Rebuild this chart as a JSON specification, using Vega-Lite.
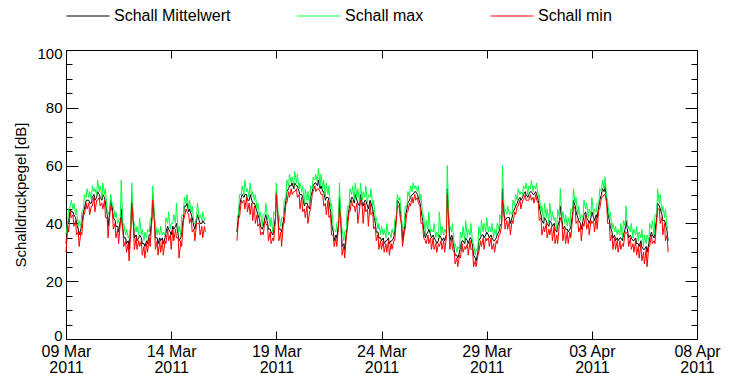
{
"$schema": "https://vega.github.io/schema/vega-lite/v6.json",
"width": 631, "height": 289,
"autosize": "none",
"padding": {"left": 66, "top": 50, "right": 36, "bottom": 35},
"background": "white",
"data": {"format": {"parse": {"t": "utc:'%Y%m%d%H'"}}, "values": [
{"t":"2011030900","s":1,"x":36,"m":33,"n":30},{"t":"2011030903","s":1,"x":45,"m":41,"n":37},{"t":"2011030906","s":1,"x":48,"m":44,"n":42},{"t":"2011030909","s":1,"x":47,"m":43,"n":39},{"t":"2011030912","s":1,"x":45,"m":40,"n":36},{"t":"2011030915","s":1,"x":41,"m":36,"n":32},{"t":"2011030918","s":1,"x":44,"m":40,"n":36},{"t":"2011030921","s":1,"x":50,"m":45,"n":43},
{"t":"2011031000","s":1,"x":52,"m":48,"n":45},{"t":"2011031003","s":1,"x":51,"m":47,"n":43},{"t":"2011031006","s":1,"x":53,"m":49,"n":46},{"t":"2011031009","s":1,"x":52,"m":48,"n":44},{"t":"2011031012","s":1,"x":55,"m":51,"n":48},{"t":"2011031015","s":1,"x":53,"m":49,"n":46},{"t":"2011031018","s":1,"x":54,"m":50,"n":45},{"t":"2011031021","s":1,"x":52,"m":47,"n":42},
{"t":"2011031100","s":1,"x":43,"m":39,"n":35},{"t":"2011031103","s":1,"x":50,"m":48,"n":46},{"t":"2011031106","s":1,"x":46,"m":42,"n":38},{"t":"2011031109","s":1,"x":44,"m":39,"n":35},{"t":"2011031112","s":1,"x":41,"m":37,"n":33},{"t":"2011031115","s":1,"x":55,"m":45,"n":42},{"t":"2011031118","s":1,"x":40,"m":35,"n":32},{"t":"2011031121","s":1,"x":38,"m":33,"n":30},
{"t":"2011031200","s":1,"x":35,"m":31,"n":27},{"t":"2011031203","s":1,"x":54,"m":49,"n":47},{"t":"2011031206","s":1,"x":40,"m":35,"n":31},{"t":"2011031209","s":1,"x":39,"m":34,"n":31},{"t":"2011031212","s":1,"x":42,"m":36,"n":32},{"t":"2011031215","s":1,"x":38,"m":33,"n":29},{"t":"2011031218","s":1,"x":37,"m":32,"n":28},{"t":"2011031221","s":1,"x":38,"m":33,"n":30},
{"t":"2011031300","s":1,"x":41,"m":36,"n":32},{"t":"2011031303","s":1,"x":53,"m":50,"n":48},{"t":"2011031306","s":1,"x":40,"m":35,"n":31},{"t":"2011031309","s":1,"x":38,"m":33,"n":29},{"t":"2011031312","s":1,"x":39,"m":34,"n":30},{"t":"2011031315","s":1,"x":37,"m":33,"n":29},{"t":"2011031318","s":1,"x":42,"m":37,"n":33},{"t":"2011031321","s":1,"x":44,"m":38,"n":34},
{"t":"2011031400","s":1,"x":40,"m":36,"n":31},{"t":"2011031403","s":1,"x":43,"m":38,"n":34},{"t":"2011031406","s":1,"x":47,"m":40,"n":35},{"t":"2011031409","s":1,"x":39,"m":34,"n":28},{"t":"2011031412","s":1,"x":43,"m":37,"n":32},{"t":"2011031415","s":1,"x":49,"m":46,"n":42},{"t":"2011031418","s":1,"x":50,"m":47,"n":44},{"t":"2011031421","s":1,"x":48,"m":45,"n":40},
{"t":"2011031500","s":1,"x":46,"m":42,"n":37},{"t":"2011031503","s":1,"x":40,"m":38,"n":34},{"t":"2011031506","s":1,"x":47,"m":43,"n":40},{"t":"2011031509","s":1,"x":43,"m":40,"n":36},{"t":"2011031512","s":1,"x":44,"m":41,"n":35},{"t":"2011031515","s":1,"x":42,"m":40,"n":37},
{"t":"2011031703","s":2,"x":41,"m":37,"n":34},{"t":"2011031706","s":2,"x":50,"m":46,"n":42},{"t":"2011031709","s":2,"x":53,"m":50,"n":47},{"t":"2011031712","s":2,"x":55,"m":50,"n":45},{"t":"2011031715","s":2,"x":52,"m":48,"n":44},{"t":"2011031718","s":2,"x":54,"m":50,"n":43},{"t":"2011031721","s":2,"x":51,"m":47,"n":41},
{"t":"2011031800","s":2,"x":50,"m":46,"n":40},{"t":"2011031803","s":2,"x":47,"m":43,"n":39},{"t":"2011031806","s":2,"x":44,"m":39,"n":36},{"t":"2011031809","s":2,"x":43,"m":39,"n":36},{"t":"2011031812","s":2,"x":47,"m":43,"n":40},{"t":"2011031815","s":2,"x":43,"m":38,"n":34},{"t":"2011031818","s":2,"x":42,"m":37,"n":33},{"t":"2011031821","s":2,"x":44,"m":38,"n":34},
{"t":"2011031900","s":2,"x":54,"m":51,"n":50},{"t":"2011031903","s":2,"x":43,"m":38,"n":34},{"t":"2011031906","s":2,"x":42,"m":37,"n":32},{"t":"2011031909","s":2,"x":48,"m":44,"n":40},{"t":"2011031912","s":2,"x":55,"m":51,"n":47},{"t":"2011031915","s":2,"x":57,"m":53,"n":49},{"t":"2011031918","s":2,"x":56,"m":54,"n":50},{"t":"2011031921","s":2,"x":58,"m":54,"n":51},
{"t":"2011032000","s":2,"x":57,"m":53,"n":49},{"t":"2011032003","s":2,"x":54,"m":50,"n":45},{"t":"2011032006","s":2,"x":53,"m":49,"n":44},{"t":"2011032009","s":2,"x":52,"m":47,"n":42},{"t":"2011032012","s":2,"x":51,"m":46,"n":40},{"t":"2011032015","s":2,"x":53,"m":49,"n":45},{"t":"2011032018","s":2,"x":56,"m":53,"n":51},{"t":"2011032021","s":2,"x":57,"m":54,"n":51},
{"t":"2011032100","s":2,"x":59,"m":55,"n":52},{"t":"2011032103","s":2,"x":57,"m":53,"n":50},{"t":"2011032106","s":2,"x":55,"m":51,"n":46},{"t":"2011032109","s":2,"x":54,"m":49,"n":43},{"t":"2011032112","s":2,"x":53,"m":48,"n":42},{"t":"2011032115","s":2,"x":47,"m":40,"n":36},{"t":"2011032118","s":2,"x":38,"m":34,"n":32},{"t":"2011032121","s":2,"x":40,"m":35,"n":32},
{"t":"2011032200","s":2,"x":54,"m":49,"n":46},{"t":"2011032203","s":2,"x":38,"m":32,"n":29},{"t":"2011032206","s":2,"x":37,"m":31,"n":28},{"t":"2011032209","s":2,"x":46,"m":41,"n":38},{"t":"2011032212","s":2,"x":52,"m":47,"n":44},{"t":"2011032215","s":2,"x":53,"m":49,"n":46},{"t":"2011032218","s":2,"x":54,"m":50,"n":44},{"t":"2011032221","s":2,"x":52,"m":47,"n":40},
{"t":"2011032300","s":2,"x":54,"m":50,"n":48},{"t":"2011032303","s":2,"x":51,"m":46,"n":40},{"t":"2011032306","s":2,"x":53,"m":48,"n":44},{"t":"2011032309","s":2,"x":50,"m":45,"n":39},{"t":"2011032312","s":2,"x":52,"m":47,"n":43},{"t":"2011032315","s":2,"x":48,"m":43,"n":38},{"t":"2011032318","s":2,"x":42,"m":37,"n":34},{"t":"2011032321","s":2,"x":40,"m":35,"n":31},
{"t":"2011032400","s":2,"x":39,"m":34,"n":31},{"t":"2011032403","s":2,"x":38,"m":33,"n":30},{"t":"2011032406","s":2,"x":40,"m":34,"n":30},{"t":"2011032409","s":2,"x":37,"m":33,"n":29},{"t":"2011032412","s":2,"x":38,"m":34,"n":31},{"t":"2011032415","s":2,"x":41,"m":37,"n":34},{"t":"2011032418","s":2,"x":50,"m":48,"n":46},{"t":"2011032421","s":2,"x":49,"m":46,"n":43},
{"t":"2011032500","s":2,"x":38,"m":34,"n":32},{"t":"2011032503","s":2,"x":46,"m":42,"n":38},{"t":"2011032506","s":2,"x":51,"m":47,"n":44},{"t":"2011032509","s":2,"x":53,"m":49,"n":46},{"t":"2011032512","s":2,"x":54,"m":50,"n":47},{"t":"2011032515","s":2,"x":53,"m":51,"n":48},{"t":"2011032518","s":2,"x":53,"m":49,"n":47},{"t":"2011032521","s":2,"x":50,"m":45,"n":40},
{"t":"2011032600","s":2,"x":43,"m":38,"n":35},{"t":"2011032603","s":2,"x":41,"m":36,"n":33},{"t":"2011032606","s":2,"x":44,"m":38,"n":33},{"t":"2011032609","s":2,"x":38,"m":35,"n":31},{"t":"2011032612","s":2,"x":40,"m":35,"n":31},{"t":"2011032615","s":2,"x":37,"m":33,"n":30},{"t":"2011032618","s":2,"x":44,"m":36,"n":32},{"t":"2011032621","s":2,"x":39,"m":34,"n":31},
{"t":"2011032700","s":2,"x":38,"m":34,"n":30},{"t":"2011032703","s":2,"x":60,"m":52,"n":50},{"t":"2011032706","s":2,"x":39,"m":34,"n":31},{"t":"2011032709","s":2,"x":40,"m":35,"n":31},{"t":"2011032712","s":2,"x":33,"m":29,"n":26},{"t":"2011032715","s":2,"x":32,"m":28,"n":25},{"t":"2011032718","s":2,"x":37,"m":32,"n":28},{"t":"2011032721","s":2,"x":39,"m":34,"n":30},
{"t":"2011032800","s":2,"x":41,"m":35,"n":31},{"t":"2011032803","s":2,"x":38,"m":33,"n":29},{"t":"2011032806","s":2,"x":40,"m":35,"n":31},{"t":"2011032809","s":2,"x":33,"m":29,"n":25},{"t":"2011032812","s":2,"x":31,"m":27,"n":25},{"t":"2011032815","s":2,"x":39,"m":34,"n":30},{"t":"2011032818","s":2,"x":41,"m":36,"n":32},{"t":"2011032821","s":2,"x":40,"m":35,"n":31},
{"t":"2011032900","s":2,"x":42,"m":37,"n":34},{"t":"2011032903","s":2,"x":39,"m":35,"n":32},{"t":"2011032906","s":2,"x":40,"m":35,"n":31},{"t":"2011032909","s":2,"x":38,"m":34,"n":30},{"t":"2011032912","s":2,"x":40,"m":36,"n":33},{"t":"2011032915","s":2,"x":43,"m":39,"n":36},{"t":"2011032918","s":2,"x":60,"m":52,"n":48},{"t":"2011032921","s":2,"x":45,"m":41,"n":38},
{"t":"2011033000","s":2,"x":46,"m":42,"n":38},{"t":"2011033003","s":2,"x":44,"m":40,"n":36},{"t":"2011033006","s":2,"x":48,"m":44,"n":40},{"t":"2011033009","s":2,"x":50,"m":46,"n":43},{"t":"2011033012","s":2,"x":52,"m":48,"n":46},{"t":"2011033015","s":2,"x":51,"m":48,"n":45},{"t":"2011033018","s":2,"x":53,"m":50,"n":48},{"t":"2011033021","s":2,"x":54,"m":50,"n":48},
{"t":"2011033100","s":2,"x":53,"m":50,"n":48},{"t":"2011033103","s":2,"x":55,"m":51,"n":48},{"t":"2011033106","s":2,"x":53,"m":50,"n":47},{"t":"2011033109","s":2,"x":54,"m":50,"n":48},{"t":"2011033112","s":2,"x":50,"m":46,"n":41},{"t":"2011033115","s":2,"x":46,"m":41,"n":36},{"t":"2011033118","s":2,"x":47,"m":42,"n":37},{"t":"2011033121","s":2,"x":45,"m":40,"n":35},
{"t":"2011040100","s":2,"x":47,"m":41,"n":36},{"t":"2011040103","s":2,"x":44,"m":39,"n":34},{"t":"2011040106","s":2,"x":42,"m":38,"n":33},{"t":"2011040109","s":2,"x":45,"m":39,"n":33},{"t":"2011040112","s":2,"x":52,"m":46,"n":42},{"t":"2011040115","s":2,"x":44,"m":38,"n":34},{"t":"2011040118","s":2,"x":43,"m":38,"n":33},{"t":"2011040121","s":2,"x":42,"m":37,"n":33},
{"t":"2011040200","s":2,"x":45,"m":39,"n":35},{"t":"2011040203","s":2,"x":52,"m":48,"n":46},{"t":"2011040206","s":2,"x":49,"m":44,"n":40},{"t":"2011040209","s":2,"x":46,"m":41,"n":37},{"t":"2011040212","s":2,"x":43,"m":38,"n":34},{"t":"2011040215","s":2,"x":48,"m":43,"n":39},{"t":"2011040218","s":2,"x":47,"m":42,"n":38},{"t":"2011040221","s":2,"x":45,"m":40,"n":36},
{"t":"2011040300","s":2,"x":49,"m":44,"n":40},{"t":"2011040303","s":2,"x":45,"m":41,"n":37},{"t":"2011040306","s":2,"x":47,"m":42,"n":38},{"t":"2011040309","s":2,"x":52,"m":48,"n":45},{"t":"2011040312","s":2,"x":55,"m":52,"n":49},{"t":"2011040315","s":2,"x":56,"m":53,"n":50},{"t":"2011040318","s":2,"x":48,"m":44,"n":40},{"t":"2011040321","s":2,"x":44,"m":39,"n":34},
{"t":"2011040400","s":2,"x":40,"m":35,"n":31},{"t":"2011040403","s":2,"x":39,"m":34,"n":31},{"t":"2011040406","s":2,"x":38,"m":34,"n":30},{"t":"2011040409","s":2,"x":40,"m":35,"n":31},{"t":"2011040412","s":2,"x":41,"m":36,"n":32},{"t":"2011040415","s":2,"x":46,"m":41,"n":37},{"t":"2011040418","s":2,"x":39,"m":35,"n":32},{"t":"2011040421","s":2,"x":40,"m":35,"n":31},
{"t":"2011040500","s":2,"x":38,"m":34,"n":30},{"t":"2011040503","s":2,"x":39,"m":33,"n":29},{"t":"2011040506","s":2,"x":37,"m":32,"n":28},{"t":"2011040509","s":2,"x":38,"m":32,"n":27},{"t":"2011040512","s":2,"x":36,"m":31,"n":26},{"t":"2011040515","s":2,"x":36,"m":30,"n":25},{"t":"2011040518","s":2,"x":40,"m":35,"n":32},{"t":"2011040521","s":2,"x":41,"m":36,"n":33},
{"t":"2011040600","s":2,"x":43,"m":37,"n":33},{"t":"2011040603","s":2,"x":52,"m":47,"n":45},{"t":"2011040606","s":2,"x":50,"m":45,"n":40},{"t":"2011040609","s":2,"x":46,"m":41,"n":36},{"t":"2011040612","s":2,"x":45,"m":40,"n":34},{"t":"2011040615","s":2,"x":39,"m":34,"n":30},
{"t":"2011030902","s":1,"x":41,"m":40,"n":39},{"t":"2011030905","s":1,"x":46,"m":45,"n":44},{"t":"2011030908","s":1,"x":45,"m":44,"n":43},{"t":"2011030911","s":1,"x":43,"m":42,"n":41},{"t":"2011030914","s":1,"x":39,"m":38,"n":37},{"t":"2011030917","s":1,"x":39,"m":38,"n":37},{"t":"2011030920","s":1,"x":45,"m":44,"n":43},{"t":"2011030923","s":1,"x":49,"m":48,"n":47},
{"t":"2011031002","s":1,"x":49,"m":48,"n":47},{"t":"2011031005","s":1,"x":48,"m":47,"n":46},{"t":"2011031008","s":1,"x":51,"m":50,"n":49},{"t":"2011031011","s":1,"x":50,"m":49,"n":48},{"t":"2011031014","s":1,"x":51,"m":50,"n":49},{"t":"2011031017","s":1,"x":49,"m":48,"n":47},{"t":"2011031020","s":1,"x":50,"m":49,"n":48},{"t":"2011031023","s":1,"x":44,"m":43,"n":42},
{"t":"2011031102","s":1,"x":45,"m":44,"n":43},{"t":"2011031105","s":1,"x":46,"m":45,"n":44},{"t":"2011031108","s":1,"x":42,"m":41,"n":40},{"t":"2011031111","s":1,"x":40,"m":39,"n":38},{"t":"2011031114","s":1,"x":42,"m":41,"n":40},{"t":"2011031117","s":1,"x":39,"m":38,"n":37},{"t":"2011031120","s":1,"x":36,"m":35,"n":34},{"t":"2011031123","s":1,"x":35,"m":34,"n":33},
{"t":"2011031202","s":1,"x":40,"m":39,"n":38},{"t":"2011031205","s":1,"x":41,"m":40,"n":39},{"t":"2011031208","s":1,"x":37,"m":36,"n":35},{"t":"2011031211","s":1,"x":36,"m":35,"n":34},{"t":"2011031214","s":1,"x":36,"m":35,"n":34},{"t":"2011031217","s":1,"x":34,"m":33,"n":32},{"t":"2011031220","s":1,"x":35,"m":34,"n":33},{"t":"2011031223","s":1,"x":37,"m":36,"n":35},
{"t":"2011031302","s":1,"x":43,"m":42,"n":41},{"t":"2011031305","s":1,"x":42,"m":41,"n":40},{"t":"2011031308","s":1,"x":36,"m":35,"n":34},{"t":"2011031311","s":1,"x":36,"m":35,"n":34},{"t":"2011031314","s":1,"x":36,"m":35,"n":34},{"t":"2011031317","s":1,"x":36,"m":35,"n":34},{"t":"2011031320","s":1,"x":40,"m":39,"n":38},{"t":"2011031323","s":1,"x":38,"m":37,"n":36},
{"t":"2011031402","s":1,"x":40,"m":39,"n":38},{"t":"2011031405","s":1,"x":40,"m":39,"n":38},{"t":"2011031408","s":1,"x":37,"m":36,"n":35},{"t":"2011031411","s":1,"x":36,"m":35,"n":34},{"t":"2011031414","s":1,"x":43,"m":42,"n":41},{"t":"2011031417","s":1,"x":47,"m":46,"n":45},{"t":"2011031420","s":1,"x":45,"m":44,"n":43},{"t":"2011031423","s":1,"x":44,"m":43,"n":42},
{"t":"2011031502","s":1,"x":40,"m":39,"n":38},{"t":"2011031505","s":1,"x":42,"m":41,"n":40},{"t":"2011031508","s":1,"x":42,"m":41,"n":40},{"t":"2011031511","s":1,"x":41,"m":40,"n":39},{"t":"2011031514","s":1,"x":41,"m":40,"n":39},
{"t":"2011031705","s":2,"x":44,"m":43,"n":42},{"t":"2011031708","s":2,"x":50,"m":49,"n":48},{"t":"2011031711","s":2,"x":50,"m":49,"n":48},{"t":"2011031714","s":2,"x":51,"m":50,"n":49},{"t":"2011031717","s":2,"x":49,"m":48,"n":47},{"t":"2011031720","s":2,"x":49,"m":48,"n":47},{"t":"2011031723","s":2,"x":48,"m":47,"n":46},
{"t":"2011031802","s":2,"x":45,"m":44,"n":43},{"t":"2011031805","s":2,"x":42,"m":41,"n":40},{"t":"2011031808","s":2,"x":39,"m":38,"n":37},{"t":"2011031811","s":2,"x":43,"m":42,"n":41},{"t":"2011031814","s":2,"x":41,"m":40,"n":39},{"t":"2011031817","s":2,"x":39,"m":38,"n":37},{"t":"2011031820","s":2,"x":37,"m":36,"n":35},{"t":"2011031823","s":2,"x":43,"m":42,"n":41},
{"t":"2011031902","s":2,"x":43,"m":42,"n":41},{"t":"2011031905","s":2,"x":39,"m":38,"n":37},{"t":"2011031908","s":2,"x":42,"m":41,"n":40},{"t":"2011031911","s":2,"x":49,"m":48,"n":47},{"t":"2011031914","s":2,"x":53,"m":52,"n":51},{"t":"2011031917","s":2,"x":54,"m":53,"n":52},{"t":"2011031920","s":2,"x":53,"m":52,"n":51},{"t":"2011031923","s":2,"x":54,"m":53,"n":52},
{"t":"2011032002","s":2,"x":52,"m":51,"n":50},{"t":"2011032005","s":2,"x":51,"m":50,"n":49},{"t":"2011032008","s":2,"x":47,"m":46,"n":45},{"t":"2011032011","s":2,"x":48,"m":47,"n":46},{"t":"2011032014","s":2,"x":46,"m":45,"n":44},{"t":"2011032017","s":2,"x":52,"m":51,"n":50},{"t":"2011032020","s":2,"x":55,"m":54,"n":53},{"t":"2011032023","s":2,"x":54,"m":53,"n":52},
{"t":"2011032102","s":2,"x":53,"m":52,"n":51},{"t":"2011032105","s":2,"x":52,"m":51,"n":50},{"t":"2011032108","s":2,"x":49,"m":48,"n":47},{"t":"2011032111","s":2,"x":50,"m":49,"n":48},{"t":"2011032114","s":2,"x":45,"m":44,"n":43},{"t":"2011032117","s":2,"x":38,"m":37,"n":36},{"t":"2011032120","s":2,"x":37,"m":36,"n":35},{"t":"2011032123","s":2,"x":41,"m":40,"n":39},
{"t":"2011032202","s":2,"x":40,"m":39,"n":38},{"t":"2011032205","s":2,"x":34,"m":33,"n":32},{"t":"2011032208","s":2,"x":38,"m":37,"n":36},{"t":"2011032211","s":2,"x":46,"m":45,"n":44},{"t":"2011032214","s":2,"x":50,"m":49,"n":48},{"t":"2011032217","s":2,"x":48,"m":47,"n":46},{"t":"2011032220","s":2,"x":49,"m":48,"n":47},{"t":"2011032223","s":2,"x":47,"m":46,"n":45},
{"t":"2011032302","s":2,"x":48,"m":47,"n":46},{"t":"2011032305","s":2,"x":49,"m":48,"n":47},{"t":"2011032308","s":2,"x":47,"m":46,"n":45},{"t":"2011032311","s":2,"x":49,"m":48,"n":47},{"t":"2011032314","s":2,"x":46,"m":45,"n":44},{"t":"2011032317","s":2,"x":41,"m":40,"n":39},{"t":"2011032320","s":2,"x":38,"m":37,"n":36},{"t":"2011032323","s":2,"x":36,"m":35,"n":34},
{"t":"2011032402","s":2,"x":36,"m":35,"n":34},{"t":"2011032405","s":2,"x":35,"m":34,"n":33},{"t":"2011032408","s":2,"x":36,"m":35,"n":34},{"t":"2011032411","s":2,"x":35,"m":34,"n":33},{"t":"2011032414","s":2,"x":36,"m":35,"n":34},{"t":"2011032417","s":2,"x":43,"m":42,"n":41},{"t":"2011032420","s":2,"x":48,"m":47,"n":46},{"t":"2011032423","s":2,"x":41,"m":40,"n":39},
{"t":"2011032502","s":2,"x":39,"m":38,"n":37},{"t":"2011032505","s":2,"x":46,"m":45,"n":44},{"t":"2011032508","s":2,"x":49,"m":48,"n":47},{"t":"2011032511","s":2,"x":51,"m":50,"n":49},{"t":"2011032514","s":2,"x":52,"m":51,"n":50},{"t":"2011032517","s":2,"x":51,"m":50,"n":49},{"t":"2011032520","s":2,"x":48,"m":47,"n":46},{"t":"2011032523","s":2,"x":42,"m":41,"n":40},
{"t":"2011032602","s":2,"x":36,"m":35,"n":34},{"t":"2011032605","s":2,"x":38,"m":37,"n":36},{"t":"2011032608","s":2,"x":37,"m":36,"n":35},{"t":"2011032611","s":2,"x":37,"m":36,"n":35},{"t":"2011032614","s":2,"x":35,"m":34,"n":33},{"t":"2011032617","s":2,"x":35,"m":34,"n":33},{"t":"2011032620","s":2,"x":36,"m":35,"n":34},{"t":"2011032623","s":2,"x":36,"m":35,"n":34},
{"t":"2011032702","s":2,"x":37,"m":36,"n":35},{"t":"2011032705","s":2,"x":41,"m":40,"n":39},{"t":"2011032708","s":2,"x":37,"m":36,"n":35},{"t":"2011032711","s":2,"x":32,"m":31,"n":30},{"t":"2011032714","s":2,"x":30,"m":29,"n":28},{"t":"2011032717","s":2,"x":31,"m":30,"n":29},{"t":"2011032720","s":2,"x":35,"m":34,"n":33},{"t":"2011032723","s":2,"x":34,"m":33,"n":32},
{"t":"2011032802","s":2,"x":35,"m":34,"n":33},{"t":"2011032805","s":2,"x":36,"m":35,"n":34},{"t":"2011032808","s":2,"x":33,"m":32,"n":31},{"t":"2011032811","s":2,"x":29,"m":28,"n":27},{"t":"2011032814","s":2,"x":31,"m":30,"n":29},{"t":"2011032817","s":2,"x":36,"m":35,"n":34},{"t":"2011032820","s":2,"x":37,"m":36,"n":35},{"t":"2011032823","s":2,"x":37,"m":36,"n":35},
{"t":"2011032902","s":2,"x":37,"m":36,"n":35},{"t":"2011032905","s":2,"x":37,"m":36,"n":35},{"t":"2011032908","s":2,"x":35,"m":34,"n":33},{"t":"2011032911","s":2,"x":36,"m":35,"n":34},{"t":"2011032914","s":2,"x":38,"m":37,"n":36},{"t":"2011032917","s":2,"x":41,"m":40,"n":39},{"t":"2011032920","s":2,"x":44,"m":43,"n":42},{"t":"2011032923","s":2,"x":43,"m":42,"n":41},
{"t":"2011033002","s":2,"x":43,"m":42,"n":41},{"t":"2011033005","s":2,"x":43,"m":42,"n":41},{"t":"2011033008","s":2,"x":46,"m":45,"n":44},{"t":"2011033011","s":2,"x":48,"m":47,"n":46},{"t":"2011033014","s":2,"x":50,"m":49,"n":48},{"t":"2011033017","s":2,"x":50,"m":49,"n":48},{"t":"2011033020","s":2,"x":52,"m":51,"n":50},{"t":"2011033023","s":2,"x":50,"m":49,"n":48},
{"t":"2011033102","s":2,"x":52,"m":51,"n":50},{"t":"2011033105","s":2,"x":51,"m":50,"n":49},{"t":"2011033108","s":2,"x":52,"m":51,"n":50},{"t":"2011033111","s":2,"x":49,"m":48,"n":47},{"t":"2011033114","s":2,"x":44,"m":43,"n":42},{"t":"2011033117","s":2,"x":41,"m":40,"n":39},{"t":"2011033120","s":2,"x":42,"m":41,"n":40},{"t":"2011033123","s":2,"x":40,"m":39,"n":38},
{"t":"2011040102","s":2,"x":41,"m":40,"n":39},{"t":"2011040105","s":2,"x":41,"m":40,"n":39},{"t":"2011040108","s":2,"x":38,"m":37,"n":36},{"t":"2011040111","s":2,"x":42,"m":41,"n":40},{"t":"2011040114","s":2,"x":42,"m":41,"n":40},{"t":"2011040117","s":2,"x":40,"m":39,"n":38},{"t":"2011040120","s":2,"x":39,"m":38,"n":37},{"t":"2011040123","s":2,"x":39,"m":38,"n":37},
{"t":"2011040202","s":2,"x":44,"m":43,"n":42},{"t":"2011040205","s":2,"x":47,"m":46,"n":45},{"t":"2011040208","s":2,"x":43,"m":42,"n":41},{"t":"2011040211","s":2,"x":41,"m":40,"n":39},{"t":"2011040214","s":2,"x":42,"m":41,"n":40},{"t":"2011040217","s":2,"x":45,"m":44,"n":43},{"t":"2011040220","s":2,"x":42,"m":41,"n":40},{"t":"2011040223","s":2,"x":43,"m":42,"n":41},
{"t":"2011040302","s":2,"x":43,"m":42,"n":41},{"t":"2011040305","s":2,"x":44,"m":43,"n":42},{"t":"2011040308","s":2,"x":47,"m":46,"n":45},{"t":"2011040311","s":2,"x":51,"m":50,"n":49},{"t":"2011040314","s":2,"x":52,"m":51,"n":50},{"t":"2011040317","s":2,"x":49,"m":48,"n":47},{"t":"2011040320","s":2,"x":42,"m":41,"n":40},{"t":"2011040323","s":2,"x":38,"m":37,"n":36},
{"t":"2011040402","s":2,"x":37,"m":36,"n":35},{"t":"2011040405","s":2,"x":36,"m":35,"n":34},{"t":"2011040408","s":2,"x":36,"m":35,"n":34},{"t":"2011040411","s":2,"x":35,"m":34,"n":33},{"t":"2011040414","s":2,"x":39,"m":38,"n":37},{"t":"2011040417","s":2,"x":38,"m":37,"n":36},{"t":"2011040420","s":2,"x":37,"m":36,"n":35},{"t":"2011040423","s":2,"x":35,"m":34,"n":33},
{"t":"2011040502","s":2,"x":36,"m":35,"n":34},{"t":"2011040505","s":2,"x":34,"m":33,"n":32},{"t":"2011040508","s":2,"x":35,"m":34,"n":33},{"t":"2011040511","s":2,"x":32,"m":31,"n":30},{"t":"2011040514","s":2,"x":33,"m":32,"n":31},{"t":"2011040517","s":2,"x":34,"m":33,"n":32},{"t":"2011040520","s":2,"x":38,"m":37,"n":36},{"t":"2011040523","s":2,"x":36,"m":35,"n":34},
{"t":"2011040602","s":2,"x":43,"m":42,"n":41},{"t":"2011040605","s":2,"x":47,"m":46,"n":45},{"t":"2011040608","s":2,"x":44,"m":43,"n":42},{"t":"2011040611","s":2,"x":42,"m":41,"n":40},{"t":"2011040614","s":2,"x":38,"m":37,"n":36}
]},
"transform": [{"fold": ["m", "x", "n"], "as": ["k", "v"]}],
"layer": [
{"mark": {"type": "line", "strokeWidth": 1},
 "encoding": {
  "x": {"field": "t", "type": "temporal",
   "scale": {"type": "utc", "domain": [{"year": 2011, "month": "mar", "date": 9, "utc": true}, {"year": 2011, "month": "apr", "date": 8, "utc": true}]},
   "axis": {"orient": "bottom", "title": null, "values": [{"year": 2011, "month": "mar", "date": 9, "utc": true}, {"year": 2011, "month": "mar", "date": 14, "utc": true}, {"year": 2011, "month": "mar", "date": 19, "utc": true}, {"year": 2011, "month": "mar", "date": 24, "utc": true}, {"year": 2011, "month": "mar", "date": 29, "utc": true}, {"year": 2011, "month": "apr", "date": 3, "utc": true}, {"year": 2011, "month": "apr", "date": 8, "utc": true}],
    "labelExpr": "[utcFormat(datum.value, '%d %b'), utcFormat(datum.value, '%Y')]",
    "tickSize": -8, "labelPadding": 12, "labelFontSize": 16, "labelLineHeight": 16, "labelBaseline": "top", "labelFlush": false, "labelOverlap": false}},
  "y": {"field": "v", "type": "quantitative", "scale": {"domain": [0, 100], "nice": false, "zero": false},
   "axis": {"orient": "left", "values": [0, 20, 40, 60, 80, 100], "tickSize": -12, "labelPadding": 16, "labelFontSize": 15, "labelFlush": true, "labelFlushOffset": 4, "title": "Schalldruckpegel [dB]", "titleFontSize": 15, "titleFontWeight": "normal", "titlePadding": 8}},
  "color": {"field": "k", "type": "nominal", "scale": {"domain": ["m", "x", "n"], "range": ["#000000", "#00ff40", "#ff0000"]},
   "legend": {"orient": "none", "legendX": 0, "legendY": -56, "direction": "horizontal", "title": null, "symbolType": "stroke", "symbolSize": 1849, "symbolStrokeWidth": 1, "labelFontSize": 16, "labelFont": "Liberation Sans", "labelColor": "black", "columnPadding": 64, "labelOffset": 4, "padding": 0, "labelLimit": 300,
    "labelExpr": "datum.label == 'm' ? 'Schall Mittelwert' : datum.label == 'x' ? 'Schall max' : 'Schall min'"}},
  "detail": {"field": "s", "type": "nominal"}
 }},
{"mark": {"type": "line", "opacity": 0},
 "encoding": {
  "x": {"field": "t", "type": "temporal", "axis": {"orient": "top", "title": null, "labels": false, "tickSize": -8, "values": [{"year": 2011, "month": "mar", "date": 9, "utc": true}, {"year": 2011, "month": "mar", "date": 14, "utc": true}, {"year": 2011, "month": "mar", "date": 19, "utc": true}, {"year": 2011, "month": "mar", "date": 24, "utc": true}, {"year": 2011, "month": "mar", "date": 29, "utc": true}, {"year": 2011, "month": "apr", "date": 3, "utc": true}, {"year": 2011, "month": "apr", "date": 8, "utc": true}]}},
  "y": {"field": "v", "type": "quantitative", "axis": {"orient": "right", "title": null, "labels": false, "tickSize": -12, "values": [0, 20, 40, 60, 80, 100]}}
 }},
{"mark": {"type": "line", "opacity": 0},
 "encoding": {
  "x": {"field": "t", "type": "temporal", "axis": null},
  "y": {"field": "v", "type": "quantitative", "axis": {"orient": "left", "title": null, "labels": false, "domain": false, "tickSize": -6, "values": [5, 10, 15, 25, 30, 35, 45, 50, 55, 65, 70, 75, 85, 90, 95]}}
 }},
{"mark": {"type": "line", "opacity": 0},
 "encoding": {
  "x": {"field": "t", "type": "temporal", "axis": null},
  "y": {"field": "v", "type": "quantitative", "axis": {"orient": "right", "title": null, "labels": false, "domain": false, "tickSize": -6, "values": [5, 10, 15, 25, 30, 35, 45, 50, 55, 65, 70, 75, 85, 90, 95]}}
 }}
],
"resolve": {"axis": {"x": "independent", "y": "independent"}},
"config": {
 "view": {"stroke": null},
 "font": "Liberation Sans",
 "axis": {"grid": false, "domainColor": "black", "tickColor": "black", "labelColor": "black", "titleColor": "black", "labelFont": "Liberation Sans", "titleFont": "Liberation Sans", "domainWidth": 1, "tickWidth": 1}
}
}
